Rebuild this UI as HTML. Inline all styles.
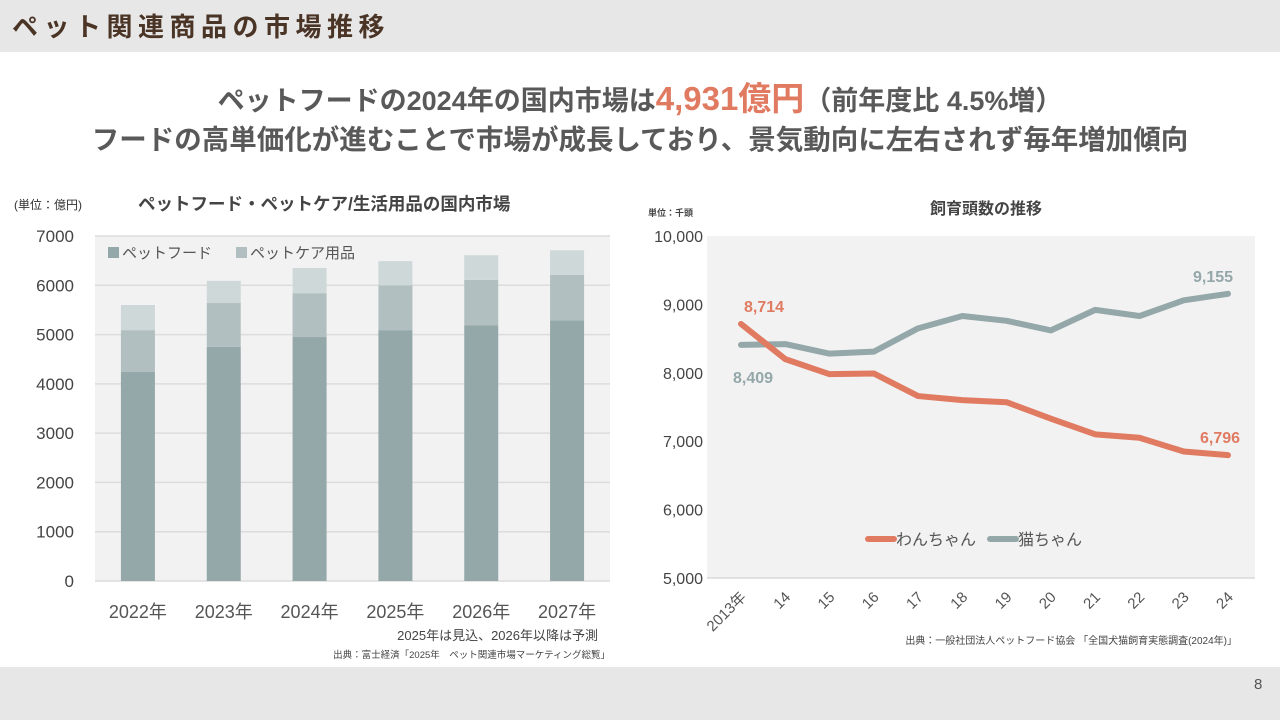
<!DOCTYPE html>
<html><head><meta charset="utf-8"><style>
body{margin:0;width:1280px;height:720px;position:relative;background:#fff;font-family:"Liberation Sans","Noto Sans CJK JP",sans-serif;overflow:hidden}
.abs{position:absolute;white-space:nowrap}
</style></head><body>
<div class="abs" style="left:0;top:0;width:1280px;height:52px;background:#e7e7e7"></div>
<div class="abs" style="left:12px;top:7px;font-size:26px;font-weight:bold;color:#4a3426;letter-spacing:5.5px">ペット関連商品の市場推移</div>
<div class="abs" style="left:0;width:1280px;text-align:center;top:72px;font-size:27px;font-weight:bold;color:#595959">ペットフードの2024年の国内市場は<span style="color:#e07b62;font-size:33px">4,931億円</span>（前年度比 4.5%増）</div>
<div class="abs" style="left:0;width:1280px;text-align:center;top:117px;font-size:27.5px;font-weight:bold;color:#595959">フードの高単価化が進むことで市場が成長しており、景気動向に左右されず毎年増加傾向</div>
<div class="abs" style="left:0;top:667px;width:1280px;height:53px;background:#e7e7e7"></div>
<div class="abs" style="left:1254px;top:676px;font-size:15px;color:#555">8</div>

<svg class="abs" style="left:0;top:0" width="1280" height="720" id="svg"></svg>
<script>
const barCats=["2022年","2023年","2024年","2025年","2026年","2027年"];
const barFood=[4240,4750,4950,5090,5190,5290];
const barCare=[850,890,890,910,920,920];
const barOther=[510,450,510,490,500,500];
const barTicks=[0,1000,2000,3000,4000,5000,6000,7000];
const lineCats=["2013年","14","15","16","17","18","19","20","21","22","23","24"];
const dogs=[8714,8200,7980,7990,7660,7600,7570,7330,7100,7050,6850,6796];
const cats=[8409,8420,8280,8310,8650,8830,8760,8620,8920,8830,9060,9155];
const lineTicks=[5000,6000,7000,8000,9000,10000];

const NS="http://www.w3.org/2000/svg";
const svg=document.getElementById('svg');
function mk(t,a,txt){const e=document.createElementNS(NS,t);for(const k in a)e.setAttribute(k,a[k]);if(txt!==undefined)e.textContent=txt;svg.appendChild(e);return e;}
const F='"Liberation Sans","Noto Sans CJK JP",sans-serif';

// bar chart
const bx0=95,bx1=610,by0=581,by1=236;
const by=v=>by0-(v/7000)*(by0-by1);
const step=(bx1-bx0)/barCats.length;
const bxc=i=>bx0+step*(i+0.5);
let e=mk('rect',{x:bx0,y:by1,width:bx1-bx0,height:by0-by1,fill:'#f2f2f2'});

barTicks.forEach(t=>{
 e=mk('line',{x1:bx0,x2:bx1,y1:by(t),y2:by(t),stroke:'#dcdcdc','stroke-width':1.5});
 
 e=mk('text',{x:74,y:by(t)+6,'text-anchor':'end','font-size':17,fill:'#444','font-family':F},t);
 
});
barCats.forEach((c,i)=>{
 const w=34,x=bxc(i)-w/2;
 const a=barFood[i],b=a+barCare[i],d=b+barOther[i];
 e=mk('rect',{x:x,y:by(a),width:w,height:by(0)-by(a),fill:'#94a7a9'});
 
 e=mk('rect',{x:x,y:by(b),width:w,height:by(a)-by(b),fill:'#b1bfc0'});
 
 e=mk('rect',{x:x,y:by(d),width:w,height:by(b)-by(d),fill:'#ced8d8'});
 
 e=mk('text',{x:bxc(i),y:618,'text-anchor':'middle','font-size':18,fill:'#555','font-family':F},c);
 
});
e=mk('rect',{x:108,y:247,width:11,height:11,fill:'#94a7a9'});
e=mk('text',{x:122,y:258,'font-size':15,fill:'#555','font-family':F},'ペットフード');
e=mk('rect',{x:236,y:247,width:11,height:11,fill:'#b1bfc0'});
e=mk('text',{x:250,y:258,'font-size':15,fill:'#555','font-family':F},'ペットケア用品');
e=mk('text',{x:14,y:209,'font-size':12,fill:'#333','font-family':F},'(単位：億円)');
e=mk('text',{x:138,y:210,'font-size':17.5,'font-weight':'bold',fill:'#444','font-family':F},'ペットフード・ペットケア/生活用品の国内市場');
e=mk('text',{x:598,y:640,'text-anchor':'end','font-size':13,fill:'#444','font-family':F},'2025年は見込、2026年以降は予測');
e=mk('text',{x:610,y:658,'text-anchor':'end','font-size':9.5,fill:'#444','font-family':F},'出典：富士経済「2025年　ペット関連市場マーケティング総覧」');

// line chart
const lx0=707,lx1=1255,ly0=578,ly1=236;
const ly=v=>ly0-(v-5000)/5000*(ly0-ly1);
const lx=i=>741+i*(1228-741)/(lineCats.length-1);
e=mk('rect',{x:lx0,y:ly1,width:lx1-lx0,height:ly0-ly1,fill:'#f2f2f2'});
e=mk('line',{x1:lx0,x2:lx1,y1:ly0,y2:ly0,stroke:'#d9d9d9','stroke-width':1.5});
lineTicks.forEach(t=>{
 e=mk('text',{x:703,y:ly(t)+6,'text-anchor':'end','font-size':16,fill:'#444','font-family':F},t.toLocaleString('en-US'));
 
});
lineCats.forEach((c,i)=>{
 e=mk('text',{x:lx(i)+6,y:598,'text-anchor':'end','font-size':15,fill:'#555','font-family':F,transform:`rotate(-45 ${lx(i)+6} 598)`},c);
 
});
function pts(arr){return arr.map((v,i)=>lx(i)+','+ly(v)).join(' ');}
e=mk('polyline',{points:pts(cats),fill:'none',stroke:'#94a7a9','stroke-width':6,'stroke-linejoin':'round','stroke-linecap':'round'});
e=mk('polyline',{points:pts(dogs),fill:'none',stroke:'#e07b62','stroke-width':6,'stroke-linejoin':'round','stroke-linecap':'round'});
const n=dogs.length-1;
e=mk('text',{x:lx(0)+23,y:ly(dogs[0])-12,'text-anchor':'middle','font-size':16,'font-weight':'bold',fill:'#e07b62','font-family':F},dogs[0].toLocaleString('en-US'));
e=mk('text',{x:lx(n)-8,y:ly(dogs[n])-12,'text-anchor':'middle','font-size':16,'font-weight':'bold',fill:'#e07b62','font-family':F},dogs[n].toLocaleString('en-US'));
e=mk('text',{x:lx(0)+12,y:ly(cats[0])+38,'text-anchor':'middle','font-size':16,'font-weight':'bold',fill:'#94a7a9','font-family':F},cats[0].toLocaleString('en-US'));
e=mk('text',{x:lx(n)-15,y:ly(cats[n])-12,'text-anchor':'middle','font-size':16,'font-weight':'bold',fill:'#94a7a9','font-family':F},cats[n].toLocaleString('en-US'));
e=mk('line',{x1:868,x2:894,y1:539,y2:539,stroke:'#e07b62','stroke-width':6,'stroke-linecap':'round'});
e=mk('text',{x:896,y:545,'font-size':16,fill:'#555','font-family':F},'わんちゃん');
e=mk('line',{x1:990,x2:1016,y1:539,y2:539,stroke:'#94a7a9','stroke-width':6,'stroke-linecap':'round'});
e=mk('text',{x:1018,y:545,'font-size':16,fill:'#555','font-family':F},'猫ちゃん');
e=mk('text',{x:648,y:216,'font-size':9,'font-weight':'bold',fill:'#444','font-family':F},'単位：千頭');
e=mk('text',{x:986,y:214,'text-anchor':'middle','font-size':16,'font-weight':'bold',fill:'#444','font-family':F},'飼育頭数の推移');
e=mk('text',{x:1237,y:644,'text-anchor':'end','font-size':10,fill:'#444','font-family':F},'出典：一般社団法人ペットフード協会 「全国犬猫飼育実態調査(2024年)」');
</script>
</body></html>
